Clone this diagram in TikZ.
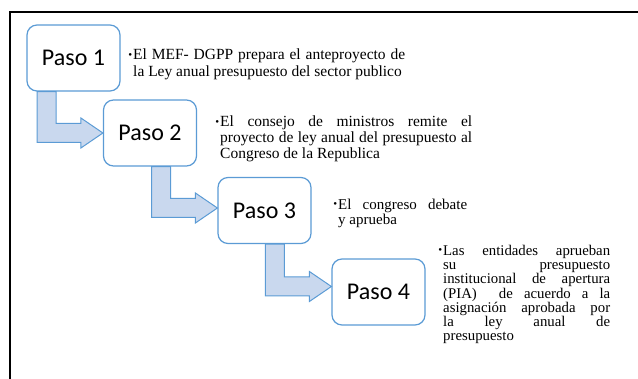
\documentclass[tikz,border=0pt]{standalone}
\usepackage{fontspec}
\setmainfont{Liberation Serif}
\newfontfamily\notafont{Liberation Serif}
\newfontfamily\pasofont{Carlito}
\usetikzlibrary{calc}

\definecolor{stepline}{RGB}{91,155,213}
\definecolor{stepfill}{RGB}{201,216,238}
\tolerance=10000 \hbadness=10000

\newcommand{\bulletmark}{\leavevmode\llap{\raisebox{0.25ex}{\fontsize{11}{11}\selectfont\textbullet}\hspace{1pt}}}

% bent arrow: down from #1, then right into #2
\newcommand{\stepjoin}[4]{%
  \draw[draw=stepline, fill=stepfill, line width=1pt]
    let \p1=(#1.south west), \p2=($(#2.west)+(0,#4)$) in
    (\x1+#3pt,\y1) -- (\x1+#3pt+19pt,\y1) -- (\x1+#3pt+19pt,\y2+9.5pt)
    -- (\x2-22pt,\y2+9.5pt) -- (\x2-22pt,\y2+15pt) -- (\x2,\y2)
    -- (\x2-22pt,\y2-15pt) -- (\x2-22pt,\y2-9.5pt) -- (\x1+#3pt,\y2-9.5pt) -- cycle;}

\begin{document}
\begin{tikzpicture}[x=1pt,y=-1pt]
		\tikzstyle{paso}=[rectangle, rounded corners=10pt, draw=stepline, line width=1.2pt, fill=white, minimum width=93pt, minimum height=66pt, font=\pasofont\fontsize{24}{24}\selectfont]
		\tikzstyle{nota}=[inner sep=0pt, anchor=north west, align=justify]

		\useasboundingbox (0,0) rectangle (638,379);
		\draw[line width=2pt] (10,380) -- (10,12) -- (639,12);

		\node [paso] (p1) at (73.5,58) {Paso 1};
		\node [paso] (p2) at (150,133) {Paso 2};
		\node [paso] (p3) at (264.5,210.5) {Paso 3};
		\node [paso] (p4) at (378.5,292) {Paso 4};

		\stepjoin{p1}{p2}{10.7}{0}
		\stepjoin{p2}{p3}{48.7}{-2.5}
		\stepjoin{p3}{p4}{48}{-5.5}

		\node [nota, text width=272pt, font=\notafont\fontsize{15.5}{16.7}\selectfont] (n1) at (133,49)
			{\bulletmark El MEF- DGPP prepara el anteproyecto de\linebreak la Ley anual presupuesto del sector publico};
		\node [nota, text width=252pt, font=\notafont\fontsize{15.5}{15.8}\selectfont] (n2) at (220,116)
			{\bulletmark El consejo de ministros remite el\linebreak proyecto de ley anual del presupuesto al\linebreak Congreso de la Republica};
		\node [nota, text width=129pt, font=\notafont\fontsize{15}{15}\selectfont] (n3) at (338,199)
			{\bulletmark El congreso debate\linebreak y aprueba};
		\node [nota, text width=167pt, font=\notafont\fontsize{14.8}{14.2}\selectfont] (n4) at (443,245)
			{\bulletmark Las entidades aprueban\linebreak su presupuesto\linebreak institucional de apertura\linebreak (PIA)\ \ de acuerdo a la\linebreak asignación aprobada por\linebreak la ley anual de\linebreak presupuesto};
	\end{tikzpicture}
\end{document}
